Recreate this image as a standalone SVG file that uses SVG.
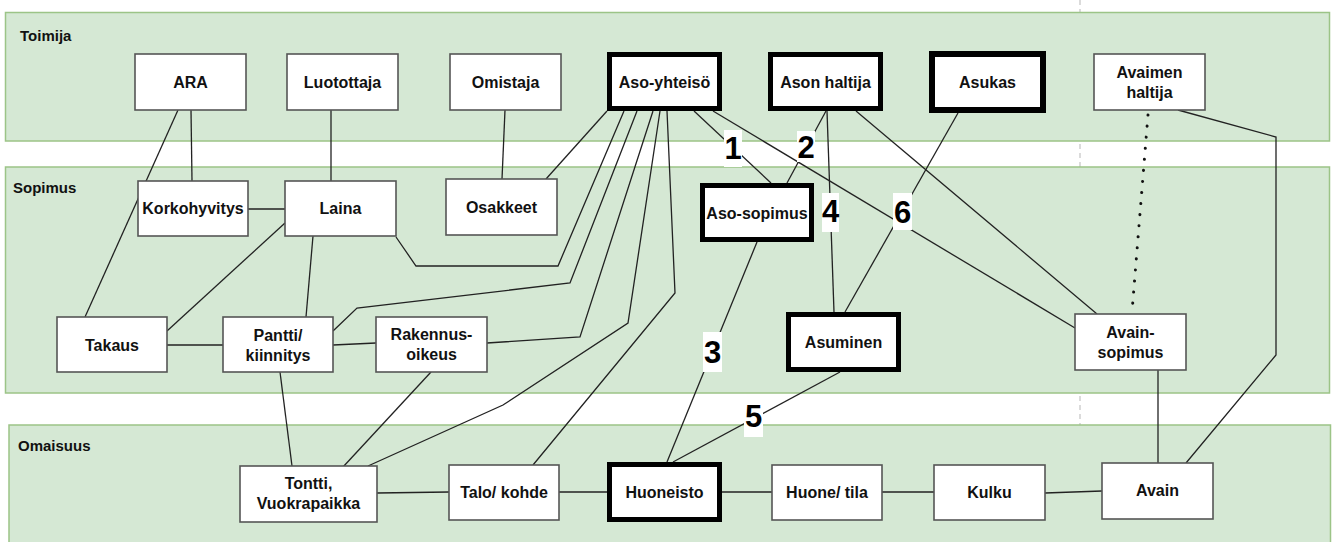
<svg xmlns="http://www.w3.org/2000/svg" width="1333" height="542" viewBox="0 0 1333 542">
<style>
.band{fill:#d5e8d4;stroke:#9cc487;stroke-width:1.5}
.bl{font-family:"Liberation Sans",Arial,sans-serif;font-weight:bold;font-size:15px;fill:#111}
.n{fill:#fff;stroke:#555;stroke-width:1.6}
.t{fill:#fff;stroke:#000;stroke-width:5}
.tx{font-family:"Liberation Sans",Arial,sans-serif;font-weight:bold;font-size:16px;fill:#111;text-anchor:middle}
.c{fill:none;stroke:#222;stroke-width:1.3}
.d{fill:none;stroke:#111;stroke-width:3;stroke-linecap:round;stroke-dasharray:0.1 11}
.lb{fill:#fff}
.num{font-family:"Liberation Sans",Arial,sans-serif;font-weight:bold;font-size:31px;fill:#000;text-anchor:middle}
</style>
<rect x="0" y="0" width="1333" height="542" fill="#fff"/>
<line x1="1080" y1="0" x2="1080" y2="542" stroke="#c8c8c8" stroke-width="1.3" stroke-dasharray="5 4"/>
<g id="bands">
<rect class="band" x="5.5" y="12.5" width="1324" height="128.5"/>
<text class="bl" x="20" y="41">Toimija</text>
<rect class="band" x="5.5" y="167" width="1324" height="226"/>
<text class="bl" x="13" y="193">Sopimus</text>
<rect class="band" x="9" y="425" width="1321.5" height="130"/>
<text class="bl" x="18" y="451">Omaisuus</text>
</g>
<g id="connectors">
<path class="c" d="M178,110 L85,317"/>
<path class="c" d="M191,110 L192,181"/>
<path class="c" d="M331,110 L331,181"/>
<path class="c" d="M505,110 L502,179"/>
<path class="c" d="M248,209 L285,209"/>
<path class="c" d="M285,223 L167,331"/>
<path class="c" d="M313,236 L306,317"/>
<path class="c" d="M396,237 L416,266 L558,266 L624,111"/>
<path class="c" d="M607,111 L546,179"/>
<path class="c" d="M637,111 L570,283 L357,308 L333,331"/>
<path class="c" d="M653,111 L580,337 L487,343"/>
<path class="c" d="M660,111 L628,323 L503,405 L368,466"/>
<path class="c" d="M667,111 L675,293 L533,465"/>
<path class="c" d="M694,111 L771,183"/>
<path class="c" d="M713,111 L1075,328"/>
<path class="c" d="M826,111 L787,183"/>
<path class="c" d="M827,111 L834,312"/>
<path class="c" d="M856,111 L1097,314"/>
<path class="c" d="M958,113 L845,312"/>
<path class="d" d="M1148,115 L1132,312"/>
<path class="c" d="M1178,110 L1276,137 L1276,355 L1186,463"/>
<path class="c" d="M1158,370 L1158,463"/>
<path class="c" d="M167,345 L223,345"/>
<path class="c" d="M333,345 L376,343"/>
<path class="c" d="M280,372 L292,466"/>
<path class="c" d="M431,372 L343,467"/>
<path class="c" d="M757,242 L667,462"/>
<path class="c" d="M840,372 L673,462"/>
<path class="c" d="M377,493 L449,492"/>
<path class="c" d="M559,492 L607,492"/>
<path class="c" d="M722,492 L772,492"/>
<path class="c" d="M882,492 L934,492"/>
<path class="c" d="M1045,493 L1102,491"/>
</g>
<g id="labels">
<rect class="lb" x="724" y="130" width="18" height="37"/><text class="num" x="733" y="159">1</text>
<rect class="lb" x="797" y="131" width="18" height="31"/><text class="num" x="806" y="158">2</text>
<rect class="lb" x="703" y="332" width="19" height="40"/><text class="num" x="712.5" y="363">3</text>
<rect class="lb" x="822" y="193" width="17" height="39"/><text class="num" x="830.5" y="222">4</text>
<rect class="lb" x="744" y="403" width="19" height="34"/><text class="num" x="753.5" y="427">5</text>
<rect class="lb" x="893" y="193" width="19" height="37"/><text class="num" x="902.5" y="223">6</text>
</g>
<g id="n-ara"><rect class="n" x="135" y="54" width="111" height="56"/><text class="tx" x="190.5" y="88">ARA</text></g>
<g id="n-luotottaja"><rect class="n" x="287" y="54" width="111" height="56"/><text class="tx" x="342.5" y="88">Luotottaja</text></g>
<g id="n-omistaja"><rect class="n" x="450" y="54" width="111" height="56"/><text class="tx" x="505.5" y="88">Omistaja</text></g>
<g id="n-aso-yhteiso"><rect class="t" x="609.5" y="54.5" width="110" height="54"/><text class="tx" x="664.5" y="88">Aso-yhteisö</text></g>
<g id="n-ason-haltija"><rect class="t" x="770.5" y="54.5" width="110" height="54"/><text class="tx" x="825.5" y="88">Ason haltija</text></g>
<g id="n-asukas"><rect class="t" x="932" y="54" width="111" height="56" style="stroke-width:6"/><text class="tx" x="987.5" y="88">Asukas</text></g>
<g id="n-avaimen-haltija"><rect class="n" x="1094" y="54" width="111" height="56"/><text class="tx" x="1149.5" y="78">Avaimen</text><text class="tx" x="1149.5" y="98">haltija</text></g>
<g id="n-korkohyvitys"><rect class="n" x="138" y="181" width="110" height="55"/><text class="tx" x="193" y="214">Korkohyvitys</text></g>
<g id="n-laina"><rect class="n" x="285" y="181" width="111" height="55"/><text class="tx" x="340.5" y="214">Laina</text></g>
<g id="n-osakkeet"><rect class="n" x="446" y="179" width="111" height="56"/><text class="tx" x="501.5" y="213">Osakkeet</text></g>
<g id="n-aso-sopimus"><rect class="t" x="702.5" y="185.5" width="109" height="54"/><text class="tx" x="757" y="219">Aso-sopimus</text></g>
<g id="n-takaus"><rect class="n" x="57" y="317" width="110" height="55"/><text class="tx" x="112" y="351">Takaus</text></g>
<g id="n-pantti"><rect class="n" x="223" y="317" width="110" height="55"/><text class="tx" x="278" y="341">Pantti/</text><text class="tx" x="278" y="361">kiinnitys</text></g>
<g id="n-rakennusoikeus"><rect class="n" x="376" y="317" width="111" height="55"/><text class="tx" x="431.5" y="340">Rakennus-</text><text class="tx" x="431.5" y="360">oikeus</text></g>
<g id="n-asuminen"><rect class="t" x="788.5" y="314.5" width="110" height="55"/><text class="tx" x="843.5" y="348">Asuminen</text></g>
<g id="n-avain-sopimus"><rect class="n" x="1075" y="314" width="111" height="56"/><text class="tx" x="1130.5" y="338">Avain-</text><text class="tx" x="1130.5" y="358">sopimus</text></g>
<g id="n-tontti"><rect class="n" x="240" y="466" width="137" height="56"/><text class="tx" x="308.5" y="489">Tontti,</text><text class="tx" x="308.5" y="509">Vuokrapaikka</text></g>
<g id="n-talo"><rect class="n" x="449" y="465" width="110" height="55"/><text class="tx" x="504" y="498">Talo/ kohde</text></g>
<g id="n-huoneisto"><rect class="t" x="609.5" y="464.5" width="110" height="55"/><text class="tx" x="664.5" y="498">Huoneisto</text></g>
<g id="n-huone"><rect class="n" x="772" y="465" width="110" height="55"/><text class="tx" x="827" y="498">Huone/ tila</text></g>
<g id="n-kulku"><rect class="n" x="934" y="465" width="111" height="55"/><text class="tx" x="989.5" y="498">Kulku</text></g>
<g id="n-avain"><rect class="n" x="1102" y="463" width="111" height="56"/><text class="tx" x="1157.5" y="496">Avain</text></g>
</svg>
